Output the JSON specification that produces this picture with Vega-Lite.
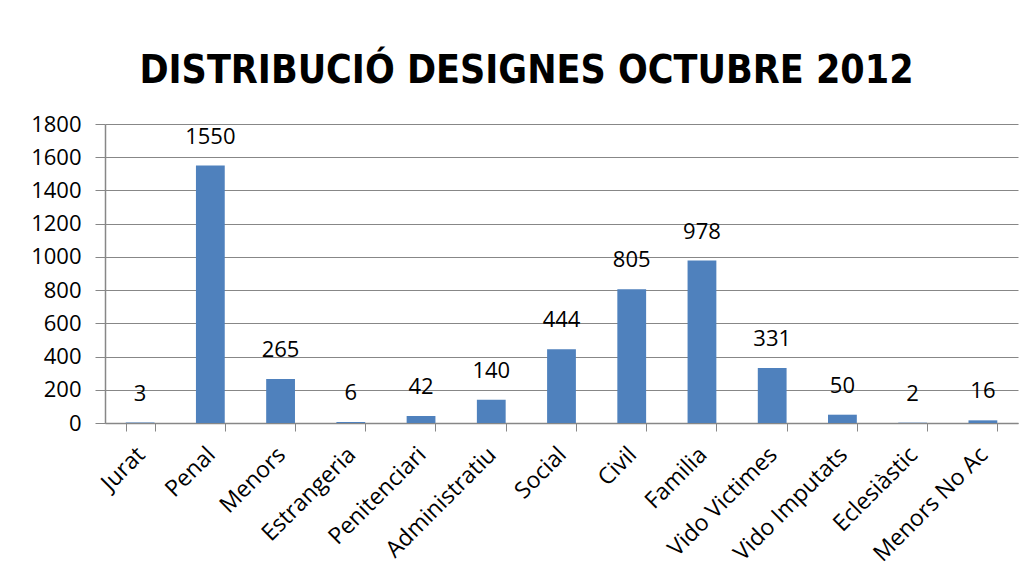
{
  "$schema": "https://vega.github.io/schema/vega-lite/v6.json",
  "autosize": {"type": "none"},
  "width": 913,
  "height": 299,
  "padding": {"left": 105, "top": 124, "right": 14, "bottom": 156},
  "background": "white",
  "title": {
    "text": "DISTRIBUCIÓ DESIGNES OCTUBRE 2012",
    "font": "DejaVu Sans Condensed, Liberation Sans Narrow, Liberation Sans",
    "fontSize": 39,
    "fontWeight": "bold",
    "color": "black",
    "anchor": "middle",
    "frame": "group",
    "dx": -35,
    "offset": 22
  },
  "data": {
    "values": [
      {"categoria": "Jurat", "designes": 3},
      {"categoria": "Penal", "designes": 1550},
      {"categoria": "Menors", "designes": 265},
      {"categoria": "Estrangeria", "designes": 6},
      {"categoria": "Penitenciari", "designes": 42},
      {"categoria": "Administratiu", "designes": 140},
      {"categoria": "Social", "designes": 444},
      {"categoria": "Civil", "designes": 805},
      {"categoria": "Familia", "designes": 978},
      {"categoria": "Vido Victimes", "designes": 331},
      {"categoria": "Vido Imputats", "designes": 50},
      {"categoria": "Eclesiàstic", "designes": 2},
      {"categoria": "Menors No Ac", "designes": 16}
    ]
  },
  "encoding": {
    "x": {
      "field": "categoria",
      "type": "nominal",
      "sort": null,
      "scale": {"paddingInner": 0.59, "paddingOuter": 0.295},
      "axis": {
        "title": null,
        "labelAngle": -45,
        "labelAlign": "right",
        "labelBaseline": "top",
        "labelFont": "Open Sans",
        "labelFontSize": 23,
        "labelColor": "black",
        "labelPadding": 12,
        "labelOffset": -7,
        "tickBand": "extent",
        "tickSize": 8,
        "tickColor": "#878787",
        "domainColor": "#878787",
        "domainWidth": 1.5,
        "grid": false
      }
    },
    "y": {
      "field": "designes",
      "type": "quantitative",
      "scale": {"domain": [0, 1800], "nice": false},
      "axis": {
        "title": null,
        "values": [0, 200, 400, 600, 800, 1000, 1200, 1400, 1600, 1800],
        "format": "d",
        "labelFont": "Open Sans",
        "labelFontSize": 22,
        "labelColor": "black",
        "labelPadding": 14,
        "tickSize": 10,
        "tickColor": "#878787",
        "domainColor": "#878787",
        "domainWidth": 1.5,
        "gridColor": "#878787",
        "gridWidth": 1,
        "grid": true
      }
    }
  },
  "layer": [
    {"mark": {"type": "bar", "color": "#4F81BD"}},
    {
      "mark": {"type": "text", "font": "Open Sans", "fontSize": 22, "color": "black", "baseline": "bottom", "dy": -17},
      "encoding": {"text": {"field": "designes", "type": "quantitative"}}
    }
  ],
  "config": {"view": {"stroke": null}}
}
